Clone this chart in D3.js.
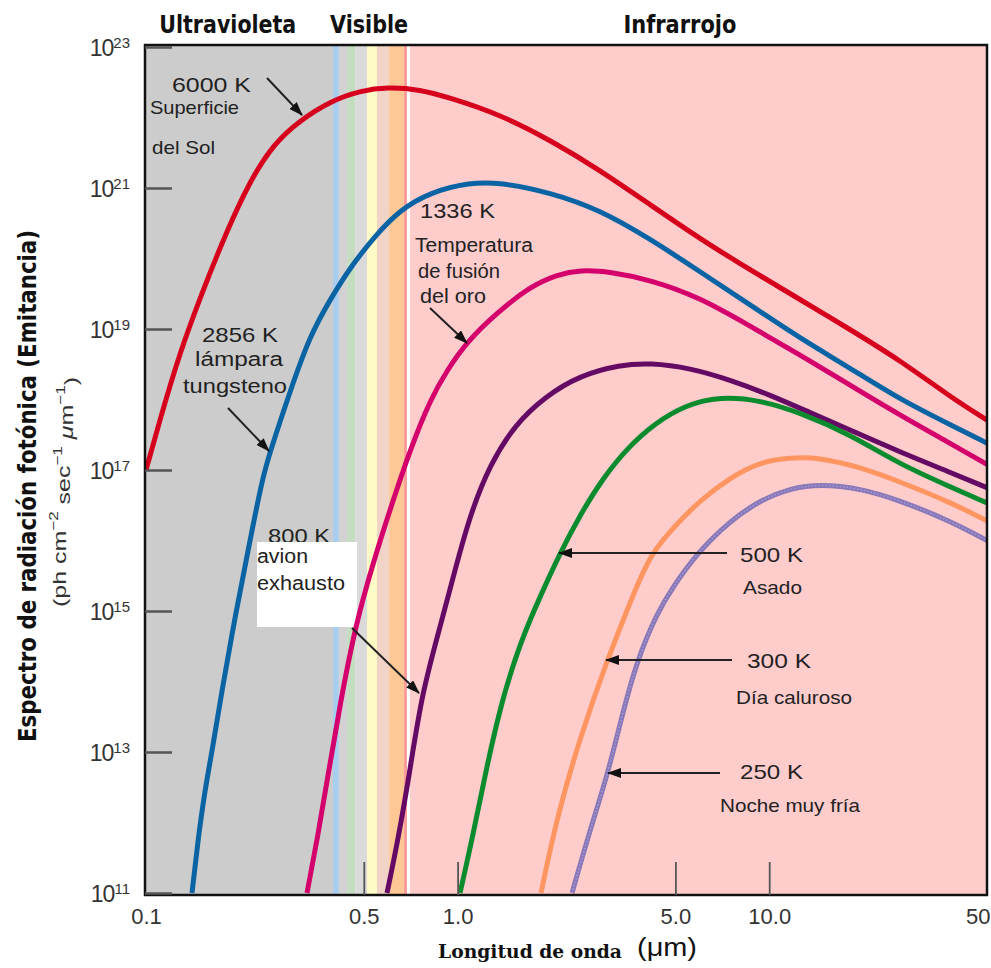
<!DOCTYPE html>
<html><head><meta charset="utf-8">
<script src="https://cdn.jsdelivr.net/npm/d3@7/dist/d3.min.js"></script>
<style>body{margin:0;background:#fff}svg{display:block}</style>
</head><body>
<svg id="chart" width="991" height="968"></svg>
<script>
// ===== DATA =====
const xTickValues = [0.1, 0.5, 1.0, 5.0, 10.0, 50.0];
const xTickLabels = ["0.1", "0.5", "1.0", "5.0", "10.0", "50.0"];
const yTickValues = [1e11, 1e13, 1e15, 1e17, 1e19, 1e21, 1e23];
const yTickExponents = ["11", "13", "15", "17", "19", "21", "23"];
const regionNames = ["Ultravioleta", "Visible", "Infrarrojo"];
const regionCenters = [0.183, 0.52, 5.17]; // µm
// spectrum background bands (µm edges)
const bandEdges = [0.1, 0.398, 0.416, 0.442, 0.469, 0.512, 0.551, 0.603, 0.673, 0.688, 0.703, 50];
const bandColors = ["#cccccc", "#a9cdee", "#d2d2d2", "#c4dcc0", "#dadada", "#fffbc6", "#f2d4c6", "#fdc796", "#ff9c9c", "#ffffff", "#ffcccc"];

const seriesNames = ["6000 K", "2856 K", "1336 K", "800 K", "500 K", "300 K", "250 K"];
const seriesColors = ["#d6001c", "#0a64a4", "#d4006c", "#640a64", "#0a8c2e", "#ff9560", "#8878b8"];

const wl6000 = [0.1, 0.111, 0.1285, 0.151, 0.179, 0.216, 0.259, 0.312, 0.39, 0.486, 0.598, 0.757, 0.945, 1.37, 1.98, 2.86, 4.15, 6.0, 8.68, 12.6, 18.2, 26.3, 38.0, 50];
const em6000 = [1.0e17, 5.3e17, 4.7e18, 3.2e19, 2.1e20, 1.3e21, 4.4e21, 9.1e21, 1.7e22, 2.4e22, 2.7e22, 2.5e22, 1.9e22, 1.1e22, 4.8e21, 1.8e21, 5.8e20, 1.9e20, 6.9e19, 2.6e19, 9.8e18, 3.6e18, 1.1e18, 5.1e17];

const wl2856 = [0.1405, 0.1468, 0.1546, 0.1628, 0.1754, 0.1945, 0.2157, 0.2357, 0.25, 0.2898, 0.336, 0.3895, 0.4515, 0.5432, 0.6534, 0.8155, 1.096, 1.368, 1.98, 2.864, 4.145, 6.0, 8.68, 12.56, 18.17, 26.29, 38.04, 50];
const em2856 = [1.0e11, 5.6e11, 2.9e12, 1.0e13, 7.6e13, 9.8e14, 1.0e16, 7.2e16, 1.8e17, 1.3e18, 8.1e18, 2.6e19, 7.4e19, 2.1e20, 4.9e20, 8.7e20, 1.2e21, 1.2e21, 8.7e20, 4.9e20, 1.9e20, 6.5e19, 2.2e19, 7.4e18, 2.8e18, 1.0e18, 4.4e17, 2.4e17];

const wl1336 = [0.3286, 0.3565, 0.3838, 0.4194, 0.4686, 0.5352, 0.6204, 0.7034, 0.8155, 0.9247, 1.072, 1.338, 1.708, 2.084, 2.471, 3.084, 4.145, 6.0, 8.68, 12.56, 18.17, 26.29, 38.04, 50];
const em1336 = [1.0e11, 6.6e11, 4.7e12, 4.7e13, 5.9e14, 4.8e15, 3.7e16, 1.9e17, 9.8e17, 2.6e18, 6.6e18, 1.7e19, 4.0e19, 5.9e19, 6.9e19, 6.5e19, 5.0e19, 2.8e19, 1.1e19, 4.3e18, 1.6e18, 6.0e17, 2.4e17, 1.2e17];

const wl800 = [0.5935, 0.6437, 0.7034, 0.7686, 0.8782, 0.981, 1.096, 1.27, 1.528, 1.908, 2.471, 3.32, 4.145, 5.57, 7.484, 10.06, 13.52, 18.17, 26.29, 38.04, 50];
const em800 = [1.0e11, 5.6e11, 5.5e12, 6.9e13, 5.9e14, 3.8e15, 2.3e16, 1.2e17, 4.4e17, 1.1e18, 2.2e18, 3.1e18, 3.3e18, 2.8e18, 1.9e18, 1.16e18, 6.5e17, 3.7e17, 1.8e17, 9.3e16, 5.6e16];

const wl500 = [1.018, 1.112, 1.234, 1.388, 1.586, 1.839, 2.131, 2.471, 2.929, 3.523, 4.3, 5.367, 6.952, 9.344, 12.56, 18.17, 26.29, 38.04, 50];
const em500 = [1.0e11, 5.6e11, 5.6e12, 5.5e13, 3.5e14, 1.6e15, 6.6e15, 2.3e16, 7.7e16, 2.1e17, 4.6e17, 8.3e17, 1.1e18, 9.8e17, 6.5e17, 3.2e17, 1.2e17, 5.8e16, 3.4e16];

const wl300 = [1.852, 2.084, 2.471, 3.017, 3.576, 4.145, 5.172, 6.0, 7.484, 9.344, 11.67, 14.56, 19.56, 26.29, 38.04, 50];
const em300 = [1.0e11, 1.2e12, 1.6e13, 2.0e14, 1.3e15, 6.6e15, 1.9e16, 3.7e16, 7.8e16, 1.3e17, 1.5e17, 1.5e17, 1.1e17, 6.8e16, 3.5e16, 1.9e16];

const wl250 = [2.329, 2.66, 3.039, 3.371, 3.765, 4.364, 4.912, 5.866, 7.484, 9.344, 11.67, 14.56, 19.56, 26.29, 38.04, 50];
const em250 = [1.0e11, 7.8e11, 5.0e12, 3.3e13, 2.0e14, 9.3e14, 2.2e15, 6.6e15, 1.9e16, 3.7e16, 5.5e16, 6.3e16, 5.5e16, 3.7e16, 1.9e16, 1.0e16];

const seriesWl = [wl6000, wl2856, wl1336, wl800, wl500, wl300, wl250];
const seriesEm = [em6000, em2856, em1336, em800, em500, em300, em250];

// ===== LAYOUT =====
const svg = d3.select("#chart");
const L = 146, R = 987, T = 47, B = 893;
const x = d3.scaleLog().domain([0.1, 50]).range([L, R]);
const y = d3.scaleLog().domain([1e11, 1e23]).range([B, T]);
const sans = "'Liberation Sans', Arial, Helvetica, sans-serif";
const narrow = "'Liberation Sans Narrow', 'Arial Narrow', 'DejaVu Sans Condensed', 'Liberation Sans', sans-serif";

svg.append("defs").html(`
 <clipPath id="plotclip"><rect x="146" y="46" width="840" height="848"/></clipPath>
 <marker id="ah" markerUnits="userSpaceOnUse" markerWidth="14" markerHeight="10" refX="13" refY="5" orient="auto">
   <path d="M0,0 L14,5 L0,10 Z" fill="#111"/></marker>`);

// background bands
const bands = bandColors.map((c, i) => ({ a: bandEdges[i], b: bandEdges[i + 1], c }));
svg.append("g").selectAll("rect").data(bands).join("rect")
  .attr("x", d => x(d.a)).attr("width", d => x(d.b) - x(d.a))
  .attr("y", 46).attr("height", 848).attr("fill", d => d.c);

// annotation box (800 K) text behind white box
const g8 = svg.append("g");
g8.append("text").attr("x", 268).attr("y", 543).attr("font-family", sans).attr("font-size", 21)
  .attr("textLength", 62).attr("lengthAdjust", "spacingAndGlyphs").attr("fill", "#222").text("800 K");
g8.append("rect").attr("x", 257).attr("y", 542).attr("width", 100).attr("height", 85).attr("fill", "#fff");

// curves
const line = d3.line().x(d => x(d[0])).y(d => y(d[1])).curve(d3.curveBasis);
const cg = svg.append("g").attr("clip-path", "url(#plotclip)");
seriesNames.forEach((n, i) => {
  const pts = seriesWl[i].map((w, j) => [w, seriesEm[i][j]]);
  cg.append("path").attr("d", line(pts)).attr("fill", "none")
    .attr("stroke", seriesColors[i]).attr("stroke-width", 5).attr("stroke-linejoin", "round");
  if (i === 6) {
    cg.append("path").attr("d", line(pts)).attr("fill", "none")
      .attr("stroke", "#a89ad2").attr("stroke-width", 1.5).attr("stroke-dasharray", "1.5,2");
  }
});

// frame
svg.append("rect").attr("x", 145).attr("y", 45).attr("width", 842).attr("height", 850)
  .attr("fill", "none").attr("stroke", "#111").attr("stroke-width", 2.5);

// y axis
const yAxis = svg.append("g").attr("transform", "translate(145,0)")
  .call(d3.axisLeft(y).tickValues(yTickValues).tickSize(-27).tickPadding(15).tickFormat(() => ""));
yAxis.select(".domain").remove();
yAxis.selectAll(".tick line").attr("stroke", "#555").attr("stroke-width", 2.5);
yAxis.selectAll(".tick text").each(function (d, i) {
  const t = d3.select(this).attr("font-family", sans).attr("font-size", 23).attr("fill", "#333").attr("dy", "0.36em");
  t.append("tspan").attr("letter-spacing", "-1").text("10");
  t.append("tspan").attr("font-size", 15).attr("dy", "-0.5em").text(yTickExponents[i]);
});

// x axis
const xAxis = svg.append("g").attr("transform", "translate(0,895)")
  .call(d3.axisBottom(x).tickValues(xTickValues).tickSize(-33).tickPadding(13)
    .tickFormat((d, i) => xTickLabels[i]));
xAxis.select(".domain").remove();
xAxis.selectAll(".tick line").attr("stroke", "#555").attr("stroke-width", 1.8)
  .attr("opacity", (d, i) => (i === 0 || i === xTickValues.length - 1) ? 0 : 1);
xAxis.selectAll(".tick text").attr("font-family", sans).attr("font-size", 22).attr("fill", "#333");

// region header labels
svg.append("g").selectAll("text").data(regionNames).join("text")
  .attr("x", (d, i) => x(regionCenters[i])).attr("y", 33).attr("text-anchor", "middle")
  .attr("font-family", narrow).attr("font-weight", "bold").attr("font-size", 25).attr("fill", "#111")
  .attr("textLength", (d, i) => [137, 78, 113][i]).attr("lengthAdjust", "spacingAndGlyphs")
  .text(d => d);

// axis titles
svg.append("text").attr("transform", "translate(36,486) rotate(-90)").attr("text-anchor", "middle")
  .attr("font-family", narrow).attr("font-weight", "bold").attr("font-size", 25).attr("fill", "#111")
  .attr("textLength", 512).attr("lengthAdjust", "spacingAndGlyphs")
  .text("Espectro de radiación fotónica (Emitancia)");
const yt2 = svg.append("text").attr("transform", "translate(66,492) rotate(-90)").attr("text-anchor", "middle")
  .attr("font-family", sans).attr("font-size", 19).attr("fill", "#333")
  .attr("textLength", 230).attr("lengthAdjust", "spacingAndGlyphs");
yt2.append("tspan").text("(ph cm");
yt2.append("tspan").attr("font-size", 13).attr("dy", "-0.6em").text("−2");
yt2.append("tspan").attr("dy", "0.6em").text(" sec");
yt2.append("tspan").attr("font-size", 13).attr("dy", "-0.6em").text("−1");
yt2.append("tspan").attr("dy", "0.6em").attr("font-style", "italic").text(" μ");
yt2.append("tspan").text("m");
yt2.append("tspan").attr("font-size", 13).attr("dy", "-0.6em").text("−1");
yt2.append("tspan").attr("dy", "0.6em").text(")");

svg.append("text").attr("x", 438).attr("y", 958).attr("font-family", "'DejaVu Serif', 'Liberation Serif', serif")
  .attr("font-weight", "bold").attr("font-size", 19).attr("fill", "#111")
  .attr("textLength", 184).attr("lengthAdjust", "spacingAndGlyphs").text("Longitud de onda");
svg.append("text").attr("x", 637).attr("y", 956).attr("font-family", sans)
  .attr("font-size", 25).attr("fill", "#111").attr("textLength", 60).attr("lengthAdjust", "spacingAndGlyphs").text("(μm)");

// annotations
const notes = [
  ["6000 K", 172, 92, 21, 79], ["Superficie", 150, 114, 19, 89], ["del Sol", 152, 154, 19, 63],
  ["2856 K", 202, 342, 21, 76], ["lámpara", 195, 366, 20, 88], ["tungsteno", 183, 393, 20, 104],
  ["1336 K", 420, 218, 21, 75], ["Temperatura", 415, 252, 20, 118], ["de fusión", 418, 278, 20, 82], ["del oro", 420, 303, 20, 66],
  ["avion", 257, 563, 20, 51], ["exhausto", 257, 590, 20, 88],
  ["500 K", 740, 562, 21, 63], ["Asado", 743, 594, 19, 59],
  ["300 K", 747, 668, 21, 64], ["Día caluroso", 736, 704, 19, 116],
  ["250 K", 740, 779, 21, 63], ["Noche muy fría", 720, 812, 19, 140]
];
svg.append("g").selectAll("text").data(notes).join("text")
  .attr("x", d => d[1]).attr("y", d => d[2]).attr("font-family", sans).attr("font-size", d => d[3])
  .attr("textLength", d => d[4]).attr("lengthAdjust", "spacingAndGlyphs").attr("fill", "#222").text(d => d[0]);

const arrows = [[267, 78, 302, 115], [228, 408, 269, 451], [430, 308, 467, 343], [352, 628, 419, 693],
  [727, 553, 559, 553], [732, 660, 606, 660], [720, 773, 608, 773]];
svg.append("g").selectAll("line").data(arrows).join("line")
  .attr("x1", d => d[0]).attr("y1", d => d[1]).attr("x2", d => d[2]).attr("y2", d => d[3])
  .attr("stroke", "#222").attr("stroke-width", 2).attr("marker-end", "url(#ah)");
</script>
</body></html>
